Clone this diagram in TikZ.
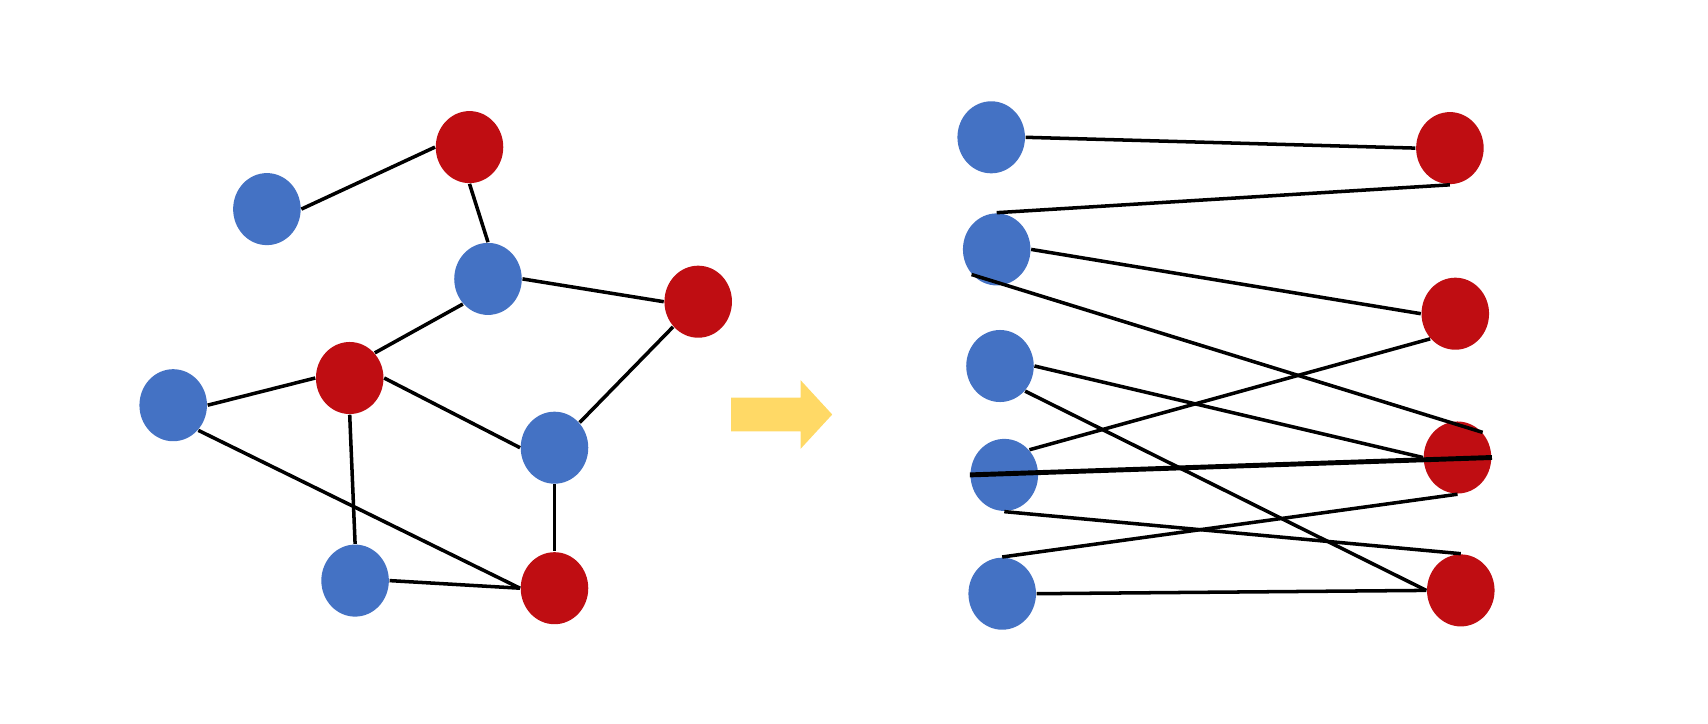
\documentclass[tikz,border=0pt]{standalone}
\usetikzlibrary{shapes.geometric}
\definecolor{nodeblue}{HTML}{4472C4}
\definecolor{nodered}{HTML}{BF0D12}
\definecolor{arrowgold}{HTML}{FFD966}
\begin{document}
\begin{tikzpicture}[x=0.01cm,y=-0.01cm,
  vtx/.style={ellipse,minimum width=0.675cm,minimum height=0.72cm,inner sep=0pt,draw=none},
  bnode/.style={vtx,fill=nodeblue},
  rnode/.style={vtx,fill=nodered},
  link/.style={draw=black,line width=1pt},
  boldlink/.style={draw=black,line width=1.4pt}]
\useasboundingbox (0,0) rectangle (1708,724);
% left graph
\node[bnode] (B1) at (266.9,209.1) {};
\node[rnode] (R1) at (469.5,147.1) {};
\node[bnode] (B2) at (488.0,278.9) {};
\node[rnode] (R2) at (698.2,301.7) {};
\node[rnode] (R3) at (349.7,378.0) {};
\node[bnode] (B3) at (173.2,405.2) {};
\node[bnode] (B4) at (554.5,447.7) {};
\node[bnode] (B5) at (355.1,580.6) {};
\node[rnode] (R4) at (554.5,588.2) {};
\draw[link] (B1.east) -- (R1.west);
\draw[link] (R1.south) -- (B2.north);
\draw[link] (B2.east) -- (R2.west);
\draw[link] (B2.225) -- (R3.45);
\draw[link] (B3.east) -- (R3.west);
\draw[link] (R3.east) -- (B4.west);
\draw[link] (R2.225) -- (B4.45);
\draw[link] (B4.south) -- (R4.north);
\draw[link] (R3.south) -- (B5.north);
\draw[link] (B5.east) -- (R4.west);
\draw[link] (B3.-45) -- (R4.west);
% arrow
\fill[arrowgold] (731,397.6) -- (800.6,397.6) -- (800.6,380.2) -- (832.2,414.5)
  -- (800.6,448.8) -- (800.6,431.4) -- (731,431.4) -- cycle;
% right graph
\node[bnode] (L1) at (991.2,137.3) {};
\node[bnode] (L2) at (996.7,249.4) {};
\node[bnode] (L3) at (1000.0,366.0) {};
\node[bnode] (L4) at (1004.3,474.9) {};
\node[bnode] (L5) at (1002.2,593.7) {};
\node[rnode] (Q1) at (1449.9,148.1) {};
\node[rnode] (Q2) at (1455.3,313.7) {};
\node[rnode] (Q3) at (1457.5,457.5) {};
\node[rnode] (Q4) at (1460.8,590.4) {};
\draw[link] (L1.east) -- (Q1.west);
\draw[link] (L2.north) -- (Q1.south);
\draw[link] (L2.east) -- (Q2.west);
\draw[link] (L2.225) -- (Q3.45);
\draw[link] (L3.east) -- (Q3.west);
\draw[link] (L3.-45) -- (Q4.west);
\draw[link] (L4.45) -- (Q2.225);
\draw[boldlink] (L4.west) -- (Q3.east);
\draw[link] (L4.south) -- (Q4.north);
\draw[link] (L5.north) -- (Q3.south);
\draw[link] (L5.east) -- (Q4.west);
\end{tikzpicture}
\end{document}
